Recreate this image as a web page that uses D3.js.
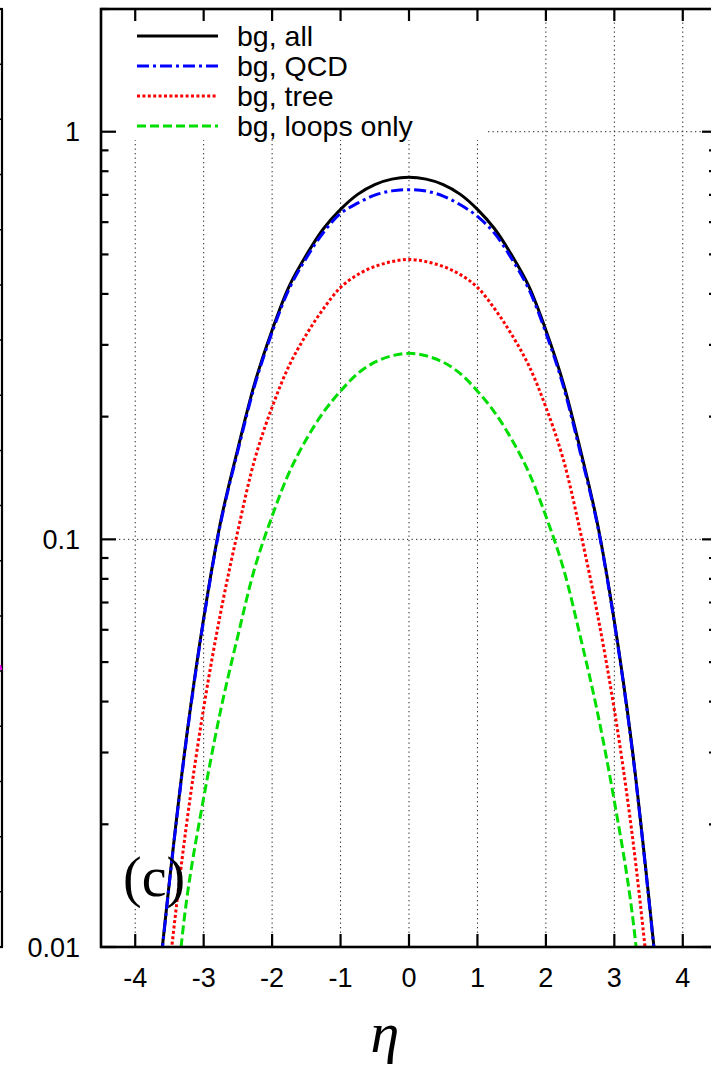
<!DOCTYPE html>
<html>
<head>
<meta charset="utf-8">
<script src="https://cdn.jsdelivr.net/npm/d3@7/dist/d3.min.js"></script>
<style>
  html, body { margin: 0; padding: 0; background: #fff; }
  svg { display: block; }
</style>
</head>
<body>
<svg id="chart" width="711" height="1068"></svg>
<script>
// ---------------- data ----------------
const eta = [-3.75,-3.5,-3.25,-3,-2.75,-2.5,-2.25,-2,-1.75,-1.5,-1.25,-1,-0.75,-0.5,-0.25,0,
             0.25,0.5,0.75,1,1.25,1.5,1.75,2,2.25,2.5,2.75,3,3.25,3.5,3.75];
const bgAll = [0.0058,0.0145,0.0328,0.064,0.111,0.167,0.243,0.326,0.418,0.498,0.578,0.645,0.702,0.742,0.765,0.773,
               0.765,0.742,0.702,0.645,0.578,0.498,0.418,0.326,0.243,0.167,0.110,0.063,0.0318,0.0134,0.0052];
const bgQCD = [0.0057,0.0144,0.0325,0.0635,0.110,0.165,0.240,0.322,0.412,0.490,0.566,0.630,0.668,0.699,0.716,0.721,
               0.715,0.695,0.662,0.620,0.563,0.488,0.411,0.321,0.239,0.164,0.109,0.0625,0.0315,0.0133,0.0051];
const bgTree = [0.0035,0.0089,0.0200,0.0386,0.0664,0.105,0.158,0.211,0.267,0.318,0.368,0.415,0.446,0.467,0.480,0.486,
                0.480,0.467,0.446,0.415,0.368,0.318,0.267,0.211,0.158,0.105,0.0660,0.0382,0.0195,0.0083,0.0032];
const bgLoops = [0.0020,0.0051,0.0130,0.0232,0.0382,0.058,0.0855,0.114,0.146,0.176,0.205,0.231,0.255,0.272,0.282,0.286,
                 0.282,0.272,0.255,0.231,0.205,0.176,0.146,0.114,0.0855,0.058,0.0379,0.0228,0.0125,0.0048,0.0018];
const seriesNames = ["bg, all", "bg, QCD", "bg, tree", "bg, loops only"];
const xTicks = [-4,-3,-2,-1,0,1,2,3,4];
const xTickLabels = ["-4","-3","-2","-1","0","1","2","3","4"];
const yMajor = [0.01, 0.1, 1];
const yMajorLabels = ["0.01", "0.1", "1"];
const yMinor = [0.02,0.03,0.04,0.05,0.06,0.07,0.08,0.09,0.2,0.3,0.4,0.5,0.6,0.7,0.8,0.9,2];
const yGrid = [0.1, 1];
const panelLabel = "(c)";
const xTitle = "\u03b7";

// ---------------- layout ----------------
const svg = d3.select("#chart");
const L = 101, R = 717, T = 9, B = 947;
const x = d3.scaleLinear().domain([-4.5, 4.5]).range([L, R]);
const y = d3.scaleLog().domain([0.01, 2]).range([B, T]);

const styles = [
  { color: "#000000", dash: null },
  { color: "#0000ff", dash: "12,4,3,4" },
  { color: "#ff0000", dash: "3,2.4" },
  { color: "#00dd00", dash: "9,4" }
];
const allSeries = [bgAll, bgQCD, bgTree, bgLoops];

svg.append("defs").append("clipPath").attr("id", "plotclip")
  .append("rect").attr("x", L).attr("y", T).attr("width", R - L).attr("height", B - T);

// remnant of the neighbouring panel at the far left
const remnant = d3.scaleLinear().domain([0, 17]).range([B, T]);
const rg = svg.append("g");
rg.append("line").attr("x1", 2).attr("x2", 2).attr("y1", T).attr("y2", B)
  .attr("stroke", "#000").attr("stroke-width", 2.2);
rg.append("line").attr("x1", -10).attr("x2", 3).attr("y1", T).attr("y2", T)
  .attr("stroke", "#000").attr("stroke-width", 2.2);
rg.append("line").attr("x1", -10).attr("x2", 3).attr("y1", B).attr("y2", B)
  .attr("stroke", "#000").attr("stroke-width", 2.2);
rg.selectAll("line.rt").data(d3.range(1, 17)).enter().append("line")
  .attr("class", "rt").attr("x1", -6).attr("x2", 2)
  .attr("y1", d => remnant(d)).attr("y2", d => remnant(d))
  .attr("stroke", "#000").attr("stroke-width", 1.5);
rg.append("line").attr("x1", 0).attr("x2", 1.5).attr("y1", 665).attr("y2", 670)
  .attr("stroke", "#ff00ff").attr("stroke-width", 2);

// grid
const grid = svg.append("g").attr("stroke", "#222").attr("stroke-width", 1)
  .attr("stroke-dasharray", "1.3,3.2");
grid.selectAll("line.gx").data(xTicks).enter().append("line")
  .attr("x1", d => x(d)).attr("x2", d => x(d)).attr("y1", T).attr("y2", B);
grid.selectAll("line.gy").data(yGrid).enter().append("line")
  .attr("x1", L).attr("x2", R).attr("y1", d => y(d)).attr("y2", d => y(d));

// opaque boxes behind legend and panel label
svg.append("rect").attr("x", L).attr("y", T).attr("width", 486 - L).attr("height", 140 - T).attr("fill", "#fff");
svg.append("rect").attr("x", 120).attr("y", 853).attr("width", 60).attr("height", 55).attr("fill", "#fff");

// curves
const line = d3.line()
  .x((d, i) => x(eta[i]))
  .y(d => y(d))
  .curve(d3.curveCatmullRom.alpha(0.5));
const cg = svg.append("g").attr("clip-path", "url(#plotclip)");
const order = [3, 2, 0, 1];
order.forEach(k => {
  cg.append("path").datum(allSeries[k])
    .attr("d", line)
    .attr("fill", "none")
    .attr("stroke", styles[k].color)
    .attr("stroke-width", 3)
    .attr("stroke-dasharray", styles[k].dash);
});

// panel label
svg.append("text").attr("x", 123).attr("y", 896)
  .attr("font-family", "'Liberation Serif', 'DejaVu Serif', serif")
  .attr("font-size", 56).attr("fill", "#000").text(panelLabel);

// frame
svg.append("rect").attr("x", L).attr("y", T).attr("width", R - L).attr("height", B - T)
  .attr("fill", "none").attr("stroke", "#000").attr("stroke-width", 2.6);

// ticks
const tk = svg.append("g").attr("stroke", "#000").attr("stroke-width", 2.2);
xTicks.forEach(t => {
  tk.append("line").attr("x1", x(t)).attr("x2", x(t)).attr("y1", B).attr("y2", B - 13);
  tk.append("line").attr("x1", x(t)).attr("x2", x(t)).attr("y1", T).attr("y2", T + 12);
});
yMajor.forEach(t => {
  tk.append("line").attr("x1", L).attr("x2", L + 15).attr("y1", y(t)).attr("y2", y(t));
  tk.append("line").attr("x1", R).attr("x2", R - 15).attr("y1", y(t)).attr("y2", y(t));
});
yMinor.forEach(t => {
  tk.append("line").attr("x1", L).attr("x2", L + 7.5).attr("y1", y(t)).attr("y2", y(t));
  tk.append("line").attr("x1", R).attr("x2", R - 8).attr("y1", y(t)).attr("y2", y(t));
});

// tick labels
const font = "'Liberation Sans', Arial, Helvetica, sans-serif";
svg.append("g").selectAll("text").data(xTicks).enter().append("text")
  .attr("x", d => x(d)).attr("y", 987)
  .attr("text-anchor", "middle").attr("font-family", font).attr("font-size", 27)
  .text((d, i) => xTickLabels[i]);
svg.append("g").selectAll("text").data(yMajor).enter().append("text")
  .attr("x", 80).attr("y", d => y(d) + 9.5)
  .attr("text-anchor", "end").attr("font-family", font).attr("font-size", 27)
  .text((d, i) => yMajorLabels[i]);

// x title
svg.append("text").attr("x", 385).attr("y", 1052)
  .attr("text-anchor", "middle")
  .attr("font-family", "'Liberation Serif', 'DejaVu Serif', serif")
  .attr("font-style", "italic").attr("font-size", 58).text(xTitle);

// legend
const lg = svg.append("g");
seriesNames.forEach((name, k) => {
  const ly = 36 + 30 * k;
  lg.append("line").attr("x1", 137).attr("x2", 218).attr("y1", ly).attr("y2", ly)
    .attr("stroke", styles[k].color).attr("stroke-width", 3)
    .attr("stroke-dasharray", styles[k].dash);
  lg.append("text").attr("x", 237).attr("y", ly + 10)
    .attr("font-family", font).attr("font-size", 28.5).text(name);
});
</script>
</body>
</html>
